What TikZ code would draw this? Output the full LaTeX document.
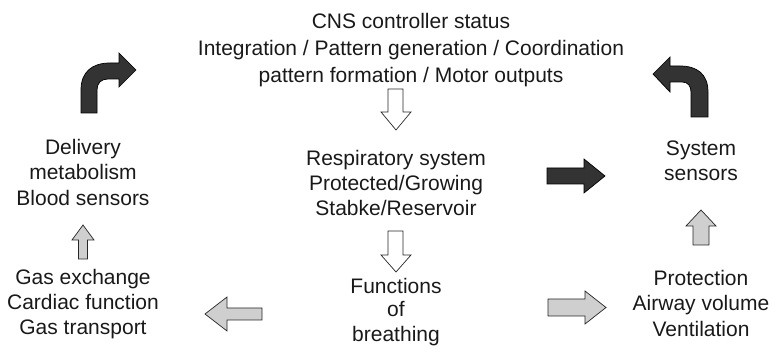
\documentclass[tikz,border=0pt]{standalone}
\usepackage{fontspec}
\setmainfont{Liberation Sans}
\newcommand{\mystrut}{\rule[-5pt]{0pt}{16pt}}
\tikzset{
  lbl/.style={inner sep=0pt, align=center, anchor=north, text=black!90},
  darkarrow/.style={fill=black!80, draw=black, line width=0.7pt, line join=miter},
  lightarrow/.style={fill=black!19, draw=black!85, line width=0.7pt, line join=miter},
  hollowarrow/.style={fill=white, draw=black!85, line width=0.7pt, line join=miter}
}
\begin{document}
\begin{tikzpicture}[x=1pt, y=-1pt]
\useasboundingbox (0,0) rectangle (769,363);
% text blocks
\node[lbl, font=\fontsize{21}{27}\selectfont] (cns) at (411,13)
  {\mystrut CNS controller status\\ \mystrut Integration / Pattern generation / Coordination\\ \mystrut pattern formation / Motor outputs};
\node[lbl, font=\fontsize{21}{25}\selectfont] (resp) at (396,150)
  {\mystrut Respiratory system\\ \mystrut Protected/Growing\\ \mystrut Stabke/Reservoir};
\node[lbl, font=\fontsize{21}{23}\selectfont] (func) at (396,278)
  {\mystrut Functions\\ \mystrut of\\[2pt] \mystrut breathing};
\node[lbl, font=\fontsize{21}{25.5}\selectfont] (deliv) at (83,139)
  {\mystrut Delivery\\ \mystrut metabolism\\ \mystrut Blood sensors};
\node[lbl, font=\fontsize{21}{25}\selectfont] (gas) at (83,269)
  {\mystrut Gas exchange\\ \mystrut Cardiac function\\ \mystrut Gas transport};
\node[lbl, font=\fontsize{21}{24.5}\selectfont] (sens) at (701,141)
  {\mystrut System\\ \mystrut sensors};
\node[lbl, font=\fontsize{21}{25.5}\selectfont] (prot) at (701,270)
  {\mystrut Protection\\ \mystrut Airway volume\\ \mystrut Ventilation};
% hollow down arrows
\draw[hollowarrow] (388,89) -- (403,89) -- (403,112) -- (411,112) -- (396,130) -- (381,112) -- (388,112) -- cycle;
\draw[hollowarrow] (388,231) -- (403,231) -- (403,255) -- (411,255) -- (396,272) -- (381,255) -- (388,255) -- cycle;
% light up arrows
\draw[lightarrow] (78.5,259) -- (78.5,240) -- (72,240) -- (83,225) -- (94,240) -- (87.5,240) -- (87.5,259) -- cycle;
\draw[lightarrow] (693,245) -- (693,226) -- (686,226) -- (701,210) -- (716,226) -- (709,226) -- (709,245) -- cycle;
% light horizontal arrows
\draw[lightarrow] (262,308) -- (227,308) -- (227,297) -- (205,314) -- (227,331) -- (227,320) -- (262,320) -- cycle;
\draw[lightarrow] (548,299) -- (585,299) -- (585,291) -- (606,307.5) -- (585,324) -- (585,316) -- (548,316) -- cycle;
% dark right arrow
\draw[darkarrow] (547,168) -- (584,168) -- (584,159) -- (605,176) -- (584,193) -- (584,184) -- (547,184) -- cycle;
% dark curved arrows
\draw[darkarrow] (81,113) -- (81,90) .. controls (81,72) and (92,63) .. (110,63) -- (119,63) -- (119,53) -- (136,70) -- (119,87) -- (119,79) -- (108,79) .. controls (101,79) and (97,83) .. (97,90) -- (97,113) -- cycle;
\draw[darkarrow] (708,117) -- (708,92) .. controls (708,74) and (697,66) .. (680,66) -- (670,66) -- (670,57) -- (653,74) -- (670,92) -- (670,82) -- (682,82) .. controls (688,82) and (691,86) .. (691,92) -- (691,117) -- cycle;
\end{tikzpicture}
\end{document}
